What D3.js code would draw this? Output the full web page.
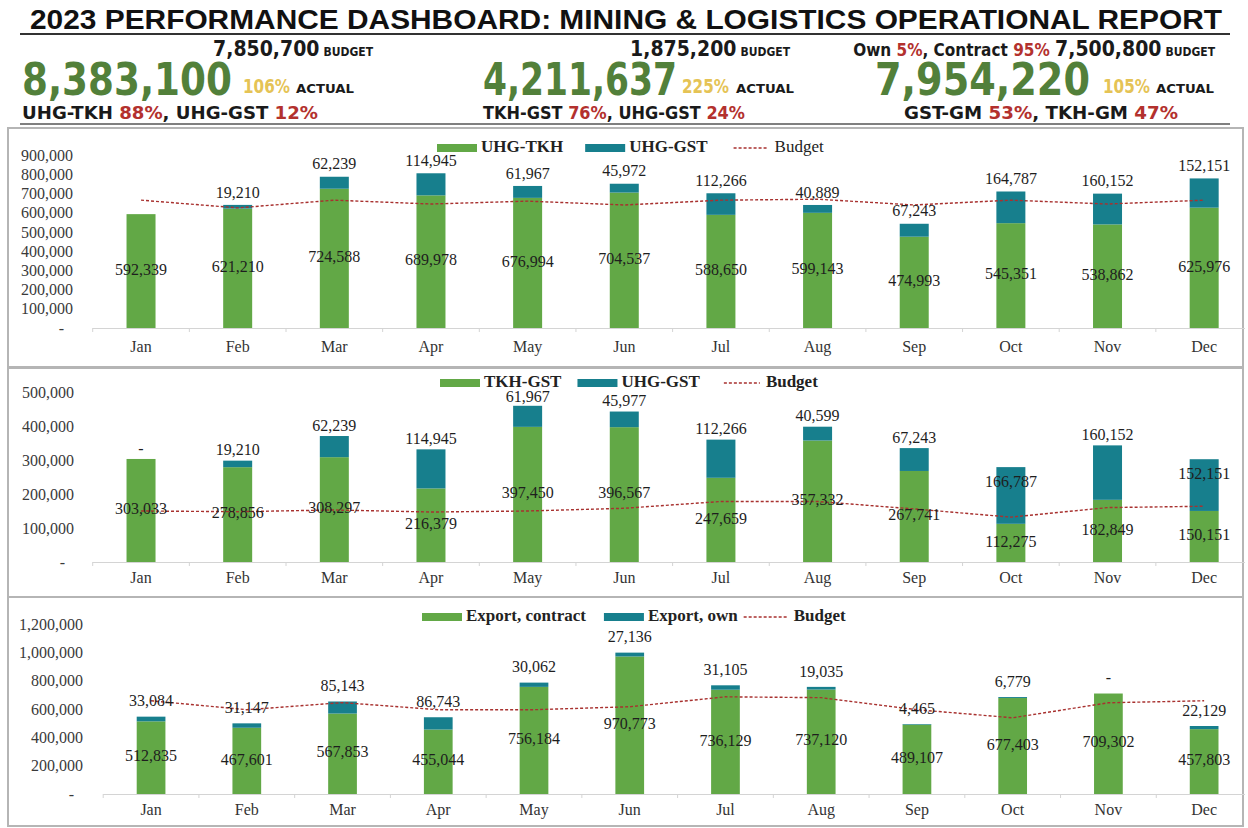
<!DOCTYPE html>
<html>
<head>
<meta charset="utf-8">
<script src="https://cdn.jsdelivr.net/npm/d3@7"></script>
<style>
body{margin:0;background:#fff;}
svg{display:block;}
.kpi{font-family:"DejaVu Sans Condensed","Liberation Sans Narrow",sans-serif;font-weight:bold;}
.serif{font-family:"Liberation Serif","Times New Roman",serif;}
</style>
</head>
<body>
<script>
(function(){
//DATA
var months = ["Jan","Feb","Mar","Apr","May","Jun","Jul","Aug","Sep","Oct","Nov","Dec"];

//panel 1 - UHG-TKH / UHG-GST
var uhgTkh = [592339, 621210, 724588, 689978, 676994, 704537, 588650, 599143, 474993, 545351, 538862, 625976];
var uhgGst1 = [null, 19210, 62239, 114945, 61967, 45972, 112266, 40889, 67243, 164787, 160152, 152151];
var budget1 = [665000, 625000, 665000, 645000, 660000, 640000, 665000, 670000, 640000, 665000, 645000, 665000];

//panel 2 - TKH-GST / UHG-GST
var tkhGst = [303033, 278856, 308297, 216379, 397450, 396567, 247659, 357332, 267741, 112275, 182849, 150151];
var uhgGst2 = [0, 19210, 62239, 114945, 61967, 45977, 112266, 40599, 67243, 166787, 160152, 152151];
var budget2 = [150000, 148000, 153000, 147000, 150000, 158000, 178000, 178000, 156000, 132000, 160000, 164000];

//panel 3 - export contract / own
var exportContract = [512835, 467601, 567853, 455044, 756184, 970773, 736129, 737120, 489107, 677403, 709302, 457803];
var exportOwn = [33084, 31147, 85143, 86743, 30062, 27136, 31105, 19035, 4465, 6779, 0, 22129];
var budget3 = [658000, 595000, 645000, 595000, 595000, 616000, 686000, 680000, 595000, 538000, 644000, 658000];

//header KPIs
var kpiActual = [8383100, 4211637, 7954220];
var kpiBudget = [7850700, 1875200, 7500800];
var kpiPct = [106, 225, 105];
var shareNames = [["UHG-TKH","UHG-GST"], ["TKH-GST","UHG-GST"], ["GST-GM","TKH-GM"]];
var sharePct = [[88,12], [76,24], [53,47]];
var ownNames = ["Own","Contract"];
var ownPct = [5, 95];

var title = "2023 PERFORMANCE DASHBOARD: MINING & LOGISTICS OPERATIONAL REPORT";
var legends = [["UHG-TKH","UHG-GST","Budget"], ["TKH-GST","UHG-GST","Budget"], ["Export, contract","Export, own","Budget"]];

//colours
var green = "#62a846", teal = "#177f8d", budgetRed = "#a8312f", kpiGreen = "#52803a", pctYellow = "#e5c355", pctRed = "#b3312e";

var W = 1248, H = 828;
var fmt = d3.format(",");

var svg = d3.select("body").append("svg")
	.attr("width", W)
	.attr("height", H);

//TITLE
svg.append("text")
	.attr("x", 30).attr("y", 29)
	.attr("textLength", 1192).attr("lengthAdjust", "spacingAndGlyphs")
	.style("font-family", "'Liberation Sans', Arial, sans-serif")
	.style("font-weight", "bold").style("font-size", "27px")
	.attr("fill", "#111")
	.text(title);

svg.append("line").attr("x1", 20).attr("x2", 1230).attr("y1", 34).attr("y2", 34)
	.attr("stroke", "#333").attr("stroke-width", 2);
svg.append("line").attr("x1", 20).attr("x2", 1230).attr("y1", 124).attr("y2", 124)
	.attr("stroke", "#555").attr("stroke-width", 1.5);

//KPI blocks - positions per block
var kpiPos = [
	{budRight: 373, numX: 22, numW: 210, pctX: 243, actX: 296, shareX: 22, shareW: 296},
	{budRight: 790, numX: 483, numW: 194, pctX: 682, actX: 736, shareX: 483, shareW: 262},
	{budRight: 1215, numX: 875, numW: 215, pctX: 1103, actX: 1156, shareX: 904, shareW: 274}
];

//fit text to a width by font size, then stretch vertically so the cap height stays the same
function fitText(t, width, baseSize, x, y){
	t.style("font-size", baseSize + "px");
	var nat = t.node().getComputedTextLength();
	var fs = baseSize * width / nat;
	t.style("font-size", fs + "px")
		.attr("transform", "translate(" + x + "," + y + ") scale(1," + (baseSize / fs) + ")");
}

kpiPos.forEach(function(p, i){
	//budget line
	var bud = svg.append("text").attr("class", "kpi")
		.attr("x", p.budRight).attr("y", 56)
		.attr("text-anchor", "end")
		.attr("fill", "#1a1a1a");
	if (i == 2) {
		bud.append("tspan").style("font-size", "17px").text(ownNames[0] + " ");
		bud.append("tspan").style("font-size", "17px").attr("fill", pctRed).text(ownPct[0] + "%");
		bud.append("tspan").style("font-size", "17px").text(", " + ownNames[1] + " ");
		bud.append("tspan").style("font-size", "17px").attr("fill", pctRed).text(ownPct[1] + "% ");
	}
	bud.append("tspan").style("font-size", "21px").text(fmt(kpiBudget[i]));
	bud.append("tspan").style("font-size", "12px").attr("dx", 4).text("BUDGET");

	//actual
	var num = svg.append("text").attr("class", "kpi")
		.attr("fill", kpiGreen)
		.text(fmt(kpiActual[i]));
	fitText(num, p.numW, 44, p.numX, 95);

	svg.append("text").attr("class", "kpi")
		.attr("x", p.pctX).attr("y", 93)
		.attr("textLength", 47).attr("lengthAdjust", "spacingAndGlyphs")
		.style("font-size", "19px")
		.attr("fill", pctYellow)
		.text(kpiPct[i] + "%");
	svg.append("text").attr("class", "kpi")
		.attr("x", p.actX).attr("y", 93)
		.attr("textLength", 58).attr("lengthAdjust", "spacingAndGlyphs")
		.style("font-size", "12px")
		.attr("fill", "#1a1a1a")
		.text("ACTUAL");

	//share line
	var sh = svg.append("text").attr("class", "kpi")
		.attr("x", p.shareX).attr("y", 119)
		.attr("textLength", p.shareW).attr("lengthAdjust", "spacingAndGlyphs")
		.style("font-size", "18px")
		.attr("fill", "#1a1a1a");
	sh.append("tspan").text(shareNames[i][0] + " ");
	sh.append("tspan").attr("fill", pctRed).text(sharePct[i][0] + "%");
	sh.append("tspan").text(", " + shareNames[i][1] + " ");
	sh.append("tspan").attr("fill", pctRed).text(sharePct[i][1] + "%");
});

//PANELS
var panels = [
	{top: 128, bottom: 367, y0: 328, yMax: 900000, yMaxPx: 155, step: 100000, xRange: [92.7, 1252.5],
		labelRight: 73, monthY: 348, legendY: 148, legendX: 437, legendGaps: [22, 26, 35], budgetBold: false,
		tealOff: -11, nudge: {},
		base: uhgTkh, top2: uhgGst1, budget: budget1, names: legends[0]},
	{top: 368, bottom: 597, y0: 562, yMax: 500000, yMaxPx: 392, step: 100000, xRange: [92.7, 1252.5],
		labelRight: 74, monthY: 579, legendY: 383, legendX: 440, legendGaps: [16, 24, 36], budgetBold: true,
		tealOff: -9, nudge: {4: 2, 9: 25, 11: 25},
		base: tkhGst, top2: uhgGst2, budget: budget2, names: legends[1]},
	{top: 597, bottom: 826, y0: 794, yMax: 1200000, yMaxPx: 624, step: 200000, xRange: [103.2, 1252],
		labelRight: 83, monthY: 811, legendY: 617, legendX: 422, legendGaps: [18, 6, 44], budgetBold: true,
		tealOff: -14, nudge: {},
		base: exportContract, top2: exportOwn, budget: budget3, names: legends[2]}
];

panels.forEach(drawPanel);

function drawPanel(p){
	var g = svg.append("g");

	//frame
	g.append("rect")
		.attr("x", 8).attr("y", p.top)
		.attr("width", 1235).attr("height", p.bottom - p.top)
		.attr("fill", "none").attr("stroke", "#b5b5b5").attr("stroke-width", 2);

	var x = d3.scaleBand().domain(months).range(p.xRange).paddingInner(0.7).paddingOuter(0.35);
	var y = d3.scaleLinear().domain([0, p.yMax]).range([p.y0, p.yMaxPx]);
	var cx = function(i){ return x(months[i]) + x.bandwidth()/2; };

	//y axis
	var yAxis = d3.axisLeft(y)
		.tickValues(d3.range(0, p.yMax + 1, p.step))
		.tickSize(0).tickPadding(0)
		.tickFormat(function(d){ return d == 0 ? "-" : fmt(d); });
	var ya = g.append("g")
		.attr("transform", "translate(" + p.labelRight + ",0)")
		.call(yAxis);
	ya.select(".domain").remove();
	ya.selectAll("text")
		.attr("class", "serif")
		.style("font-size", "16px")
		.attr("fill", "#3a3a3a")
		.attr("dx", function(d){ return d == 0 ? -9 : 0; });

	//x axis line + ticks between months
	g.append("line")
		.attr("x1", p.xRange[0]).attr("x2", 1245)
		.attr("y1", p.y0 + 0.5).attr("y2", p.y0 + 0.5)
		.attr("stroke", "#d4d4d4").attr("stroke-width", 1.2);
	g.selectAll(".xtick")
		.data(d3.range(months.length))
		.enter().append("line")
		.attr("x1", function(i){ return x(months[i]) - x.step()*0.35; })
		.attr("x2", function(i){ return x(months[i]) - x.step()*0.35; })
		.attr("y1", p.y0).attr("y2", p.y0 + 4)
		.attr("stroke", "#d4d4d4");

	g.selectAll(".month")
		.data(months)
		.enter().append("text")
		.attr("class", "serif")
		.attr("x", function(d, i){ return cx(i); })
		.attr("y", p.monthY)
		.attr("text-anchor", "middle").attr("dominant-baseline", "middle")
		.style("font-size", "16px")
		.attr("fill", "#333")
		.text(function(d){ return d; });

	//bars
	g.selectAll(".barA")
		.data(p.base)
		.enter().append("rect")
		.attr("x", function(d, i){ return x(months[i]); })
		.attr("y", function(d){ return y(d); })
		.attr("width", x.bandwidth())
		.attr("height", function(d){ return p.y0 - y(d); })
		.attr("fill", green);

	g.selectAll(".barB")
		.data(p.top2)
		.enter().append("rect")
		.attr("x", function(d, i){ return x(months[i]); })
		.attr("y", function(d, i){ return y(p.base[i] + (d || 0)); })
		.attr("width", x.bandwidth())
		.attr("height", function(d, i){ return y(p.base[i]) - y(p.base[i] + (d || 0)); })
		.attr("fill", teal);

	//budget line
	var line = d3.line()
		.x(function(d, i){ return cx(i); })
		.y(function(d){ return y(d); });
	g.append("path")
		.datum(p.budget)
		.attr("d", line)
		.attr("fill", "none")
		.attr("stroke", budgetRed)
		.attr("stroke-width", 1.4)
		.attr("stroke-dasharray", "3,2");

	//labels - base value in middle of green segment
	g.selectAll(".lblA")
		.data(p.base)
		.enter().append("text")
		.attr("class", "serif")
		.attr("x", function(d, i){ return cx(i); })
		.attr("y", function(d){ return y(d/2); })
		.attr("text-anchor", "middle").attr("dominant-baseline", "middle")
		.style("font-size", "16px")
		.attr("fill", "#1e1e1e")
		.text(function(d){ return fmt(d); });

	//labels - top segment above the bar
	g.selectAll(".lblB")
		.data(p.top2)
		.enter().append("text")
		.attr("class", "serif")
		.attr("x", function(d, i){ return cx(i); })
		.attr("y", function(d, i){ return y(p.base[i] + (d || 0)) + p.tealOff + (p.nudge[i] || 0); })
		.attr("text-anchor", "middle").attr("dominant-baseline", "middle")
		.style("font-size", "16px")
		.attr("fill", "#1e1e1e")
		.text(function(d){ return d === null ? "" : (d == 0 ? "-" : fmt(d)); });

	//legend
	var lg = g.append("g").attr("transform", "translate(" + p.legendX + "," + p.legendY + ")");
	var lx = 0;
	p.names.forEach(function(name, k){
		if (k < 2) {
			lg.append("rect").attr("x", lx).attr("y", -4).attr("width", 40).attr("height", 8)
				.attr("fill", k == 0 ? green : teal);
			lx += 44;
		} else {
			lg.append("line").attr("x1", lx).attr("x2", lx + p.legendGaps[2]).attr("y1", 0).attr("y2", 0)
				.attr("stroke", budgetRed).attr("stroke-width", 1.4).attr("stroke-dasharray", "3,2");
			lx += p.legendGaps[2] + 6;
		}
		var t = lg.append("text")
			.attr("class", "serif")
			.attr("x", lx).attr("y", 0)
			.attr("dominant-baseline", "middle")
			.style("font-size", "17px")
			.style("font-weight", (k < 2 || p.budgetBold) ? "bold" : "normal")
			.attr("fill", "#222")
			.text(name);
		lx += t.node().getComputedTextLength() + (k < 2 ? p.legendGaps[k] : 0);
	});
}

})();
</script>
</body>
</html>
